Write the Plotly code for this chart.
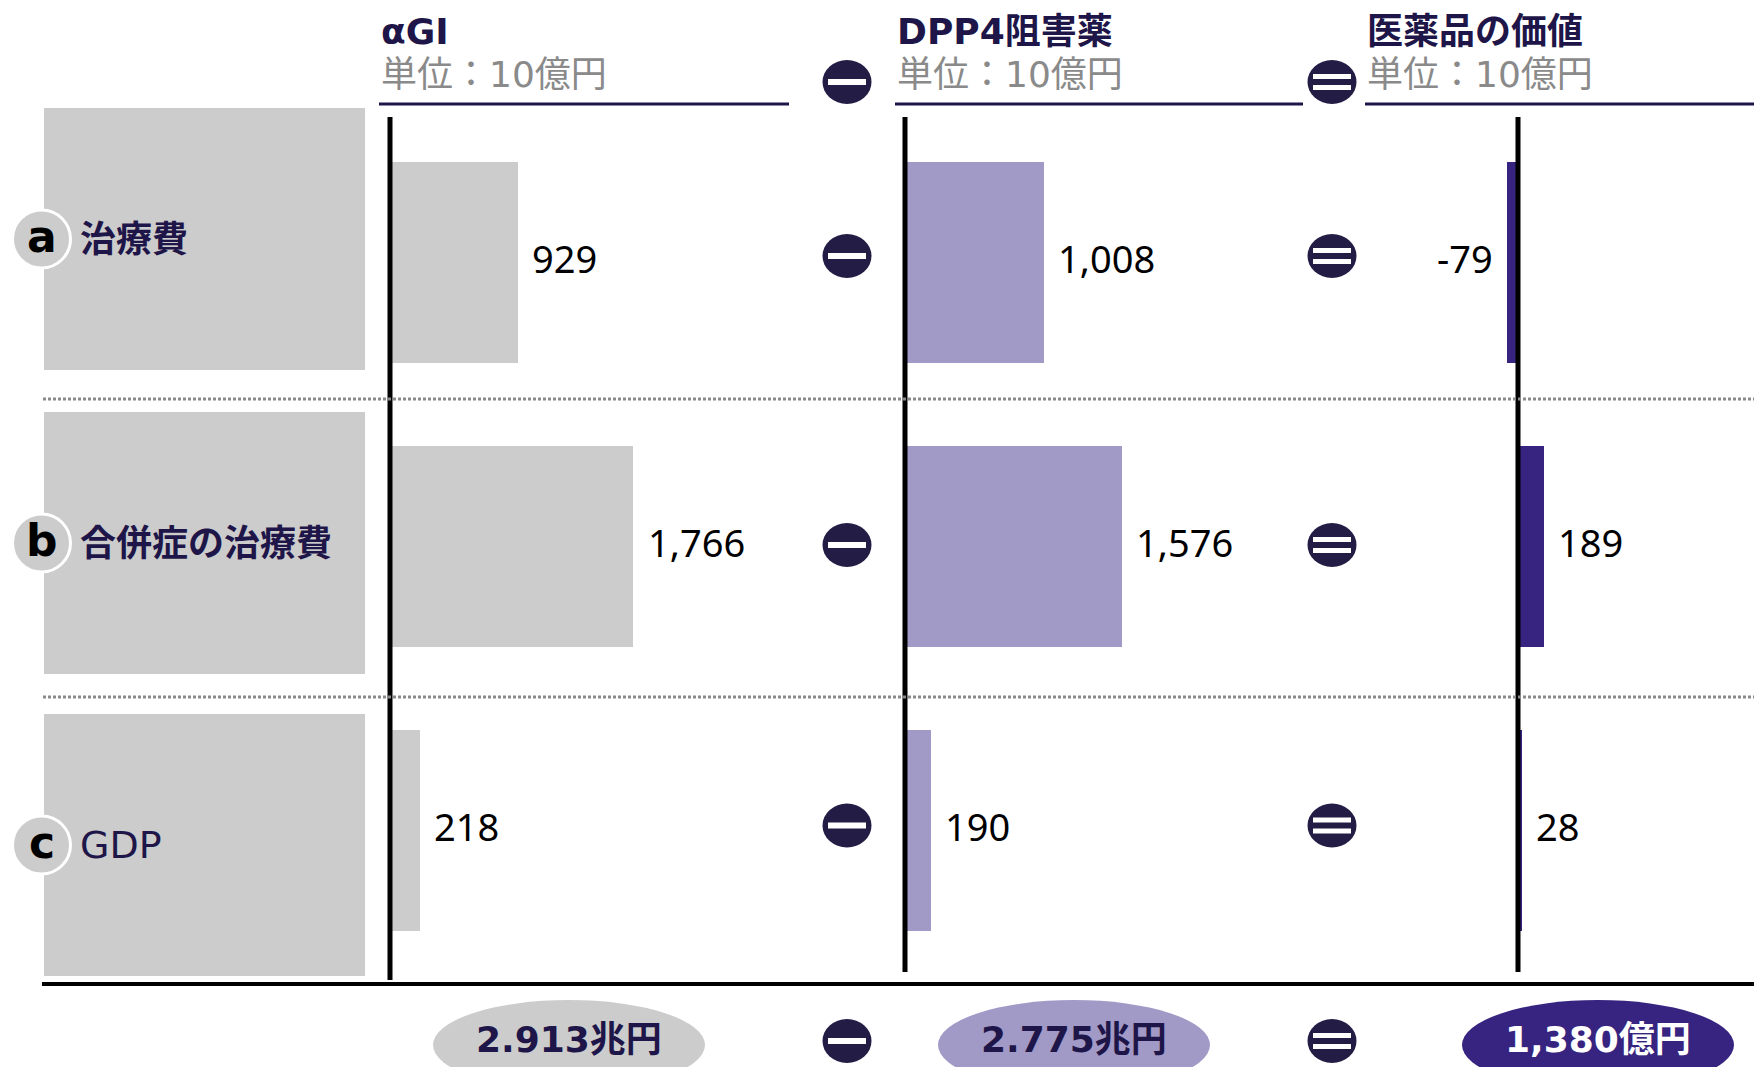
import plotly.graph_objects as go

# ---- data -------------------------------------------------------------
rows = ["治療費", "合併症の治療費", "GDP"]
row_letters = ["a", "b", "c"]
columns = ["αGI", "DPP4阻害薬", "医薬品の価値"]
unit_label = "単位：10億円"
agi_values = [929, 1766, 218]
dpp4_values = [1008, 1576, 190]
drug_values = [-79, 189, 28]
totals = ["2.913兆円", "2.775兆円", "1,380億円"]

# ---- canvas helpers ---------------------------------------------------
W, H = 1754, 1067


def px(x):
    return x / W


def py(y):
    return 1 - y / H


NAVY = "#1e1548"
CIRCLE_NAVY = "#231d45"
GRAY_TXT = "#8a8a8a"
BAR_COLORS = ["#cccccc", "#a199c6", "#372480"]
TOTAL_TXT = [NAVY, NAVY, "#ffffff"]
LATIN_JP = "DejaVu Sans, Noto Sans CJK JP, sans-serif"
NUM_FONT = "Noto Sans, Noto Sans CJK JP, sans-serif"

PX_PER_UNIT = 0.138            # horizontal pixels per 10億円
ZERO_PX = [390, 905, 1518]     # where each column's zero line sits
X_RANGES = [(-200, 2800), (-200, 2800), (-1500, 1700)]
ROW0_PX, ROW_STEP = 262, 284   # vertical centre of first row, row pitch
BAR_PX = 201

series = [agi_values, dpp4_values, drug_values]
axis_ids = ["x", "x2", "x3"]

fig = go.Figure()
layout_axes = {}
for i, (vals, ax) in enumerate(zip(series, axis_ids)):
    fig.add_trace(go.Bar(
        x=vals, y=rows, orientation="h",
        xaxis=ax, yaxis="y",
        marker=dict(color=BAR_COLORS[i], line=dict(width=0)),
        width=BAR_PX / ROW_STEP,
        hoverinfo="skip",
    ))
    lo, hi = X_RANGES[i]
    name = "xaxis" if i == 0 else f"xaxis{i + 1}"
    layout_axes[name] = dict(
        domain=[px(ZERO_PX[i] + lo * PX_PER_UNIT), px(ZERO_PX[i] + hi * PX_PER_UNIT)],
        range=[lo, hi], anchor="y", visible=False, fixedrange=True,
    )

fig.update_layout(**layout_axes)
fig.update_layout(
    yaxis=dict(
        type="category", categoryorder="array", categoryarray=rows,
        range=[(H - ROW0_PX) / ROW_STEP, -ROW0_PX / ROW_STEP],
        domain=[0, 1], visible=False, fixedrange=True,
    ),
    width=W, height=H,
    margin=dict(l=0, r=0, t=0, b=0),
    paper_bgcolor="white", plot_bgcolor="white",
    showlegend=False, bargap=0,
)

shapes = []
annotations = []

# value labels next to each bar
for vals, ax in zip(series, axis_ids):
    for cat, v in zip(rows, vals):
        annotations.append(dict(
            x=v, y=cat, xref=ax, yref="y",
            text=f"{v:,}", showarrow=False,
            xanchor="left" if v >= 0 else "right",
            xshift=12 if v >= 0 else -12, yshift=4,
            font=dict(family=NUM_FONT, size=38, color="#000000"),
        ))

# zero lines of the three columns
line_bottoms = [980, 972, 972]
for ax, yb in zip(axis_ids, line_bottoms):
    shapes.append(dict(type="line", xref=ax, yref="paper",
                       x0=0, x1=0, y0=py(117), y1=py(yb),
                       line=dict(color="#000000", width=5)))

# column headers
head_x = [379, 895, 1365]
head_end = [789, 1303, W]
for name, hx, he in zip(columns, head_x, head_end):
    annotations.append(dict(x=px(hx), y=py(31), xref="paper", yref="paper",
                            text=f"<b>{name}</b>", showarrow=False,
                            xanchor="left", yanchor="middle",
                            font=dict(family=LATIN_JP, size=36, color=NAVY)))
    annotations.append(dict(x=px(hx), y=py(75), xref="paper", yref="paper",
                            text=unit_label, showarrow=False,
                            xanchor="left", yanchor="middle",
                            font=dict(family=LATIN_JP, size=36, color=GRAY_TXT)))
    shapes.append(dict(type="line", xref="paper", yref="paper",
                       x0=px(hx), x1=px(he), y0=py(104), y1=py(104),
                       line=dict(color=NAVY, width=3)))

# row separators and base line
for sy in [399, 697]:
    shapes.append(dict(type="line", xref="paper", yref="paper",
                       x0=px(43), x1=1, y0=py(sy), y1=py(sy),
                       line=dict(color="#8a8a8a", width=3, dash="3px,2px")))
shapes.append(dict(type="line", xref="paper", yref="paper",
                   x0=px(42), x1=1, y0=py(984), y1=py(984),
                   line=dict(color="#000000", width=4)))

# row label boxes with lettered badges
box_tops = [108, 412, 714]
box_h = 262
for label, letter, top in zip(rows, row_letters, box_tops):
    cy = top + box_h / 2
    shapes.append(dict(type="rect", xref="paper", yref="paper", layer="below",
                       x0=px(44), x1=px(365), y0=py(top), y1=py(top + box_h),
                       fillcolor="#cccccc", line=dict(width=0)))
    shapes.append(dict(type="circle", xref="paper", yref="paper",
                       x0=px(41.5 - 29), x1=px(41.5 + 29),
                       y0=py(cy - 29), y1=py(cy + 29),
                       fillcolor="#cccccc", line=dict(color="#ffffff", width=3)))
    annotations.append(dict(x=px(41.5), y=py(cy), xref="paper", yref="paper",
                            text=f"<b>{letter}</b>", showarrow=False,
                            xanchor="center", yanchor="middle", yshift=3,
                            font=dict(family=LATIN_JP, size=44, color="#000000")))
    is_latin = label.isascii()
    annotations.append(dict(x=px(78), y=py(cy), xref="paper", yref="paper",
                            text=label if is_latin else f"<b>{label}</b>",
                            showarrow=False, xanchor="left", yanchor="middle",
                            font=dict(family=LATIN_JP, size=38 if is_latin else 36,
                                      color=NAVY)))

# minus / equals operator badges
op_rows = [82, 256, 545, 825.5, 1041]
for kind, ox in [("minus", 847), ("equals", 1332)]:
    for oy in op_rows:
        shapes.append(dict(type="circle", xref="paper", yref="paper",
                           x0=px(ox - 24.5), x1=px(ox + 24.5),
                           y0=py(oy - 22), y1=py(oy + 22),
                           fillcolor=CIRCLE_NAVY, line=dict(width=0)))
        bars = [(-3, 3)] if kind == "minus" else [(-8, -3), (3, 8)]
        for b0, b1 in bars:
            shapes.append(dict(type="rect", xref="paper", yref="paper",
                               x0=px(ox - 19), x1=px(ox + 19),
                               y0=py(oy + b0), y1=py(oy + b1),
                               fillcolor="#ffffff", line=dict(width=0)))

# totals in ovals beneath each column
total_cx = [569, 1074, 1598]
for txt, cx, fill, tcol in zip(totals, total_cx, BAR_COLORS, TOTAL_TXT):
    shapes.append(dict(type="circle", xref="paper", yref="paper",
                       x0=px(cx - 136), x1=px(cx + 136),
                       y0=py(1000), y1=py(1090),
                       fillcolor=fill, line=dict(width=0)))
    annotations.append(dict(x=px(cx), y=py(1039), xref="paper", yref="paper",
                            text=f"<b>{txt}</b>", showarrow=False,
                            xanchor="center", yanchor="middle",
                            font=dict(family=LATIN_JP, size=36, color=tcol)))

fig.update_layout(shapes=shapes, annotations=annotations)
fig.write_html("out.html")
